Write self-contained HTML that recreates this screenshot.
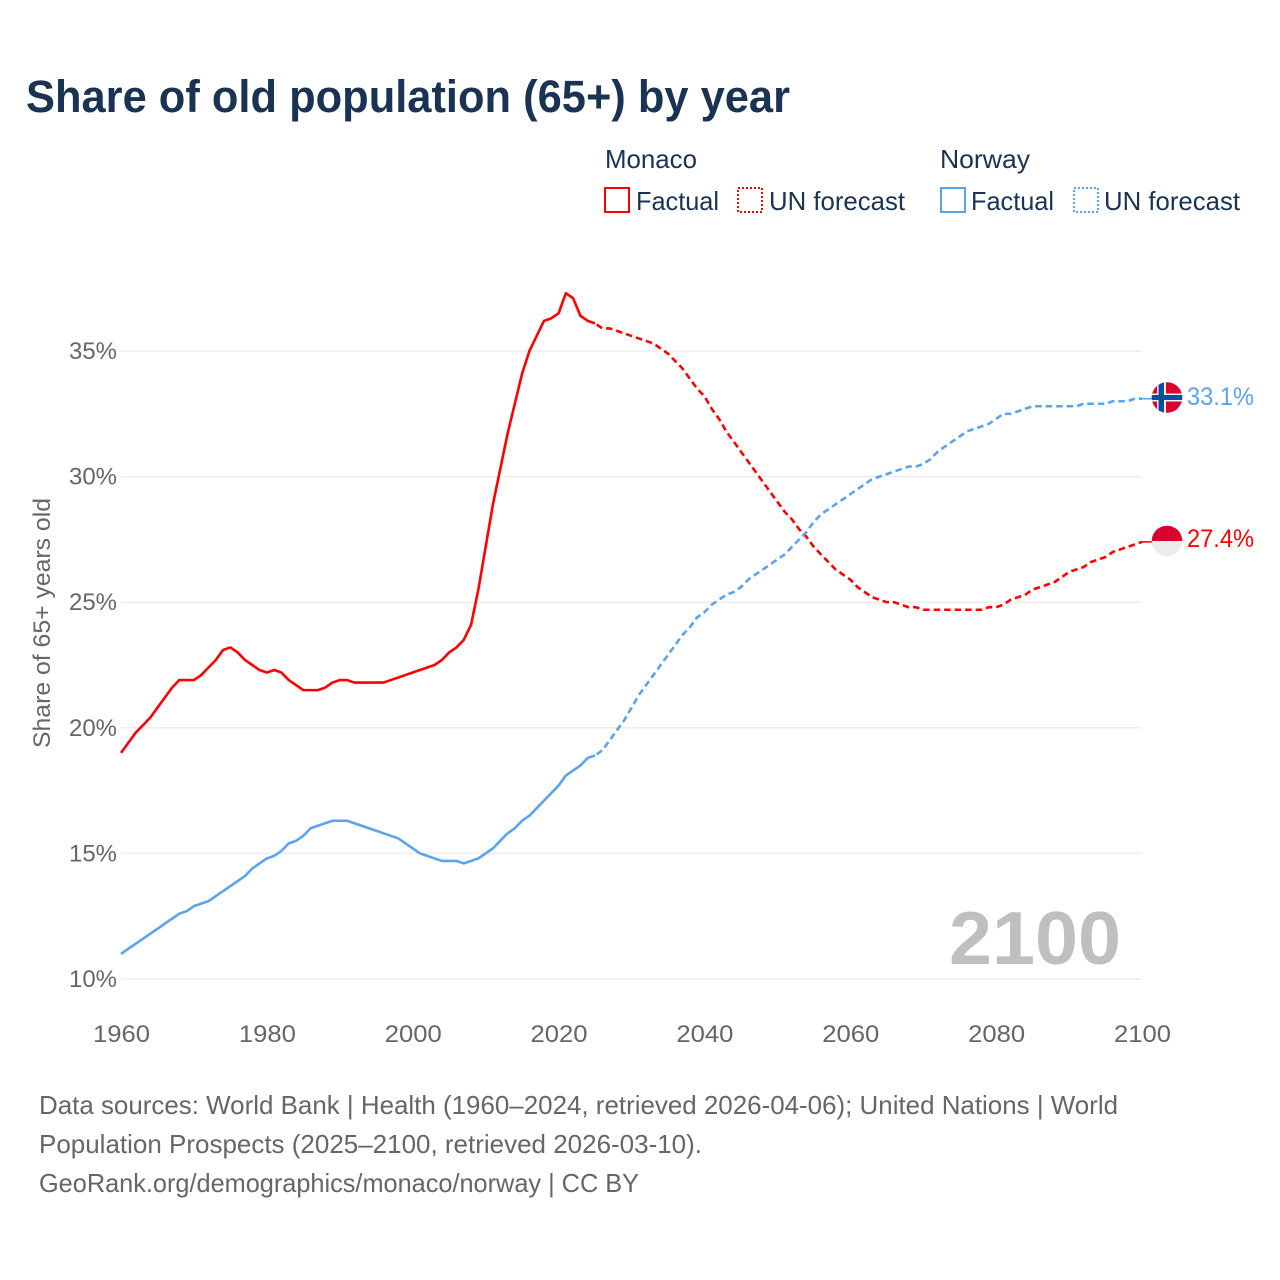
<!DOCTYPE html>
<html lang="en">
<head>
<meta charset="utf-8">
<title>Share of old population (65+) by year</title>
<style>
html,body{margin:0;padding:0;background:#fff;width:1280px;height:1280px;overflow:hidden}
svg{display:block}
text{font-family:"Liberation Sans",sans-serif}
</style>
</head>
<body>
<svg id="chart" xmlns="http://www.w3.org/2000/svg" width="1280" height="1280" viewBox="0 0 1280 1280">
  <rect x="0" y="0" width="1280" height="1280" fill="#fff"/>
  <text x="26" y="112" font-size="45" font-weight="700" fill="#1a3352" textLength="764" lengthAdjust="spacingAndGlyphs">Share of old population (65+) by year</text>

  <g font-size="26" fill="#1a3352">
    <text x="605" y="168" textLength="92" lengthAdjust="spacingAndGlyphs">Monaco</text>
    <text x="940" y="168" textLength="90" lengthAdjust="spacingAndGlyphs">Norway</text>
    <rect x="605" y="188" width="24" height="24" fill="none" stroke="#ff0000" stroke-width="2"/>
    <text x="636" y="210" textLength="83" lengthAdjust="spacingAndGlyphs">Factual</text>
    <rect x="738" y="188" width="24" height="24" fill="none" stroke="#ff0000" stroke-width="2" stroke-dasharray="2 2"/>
    <text x="769" y="210" textLength="136" lengthAdjust="spacingAndGlyphs">UN forecast</text>
    <rect x="941" y="188" width="24" height="24" fill="none" stroke="#5ba4ec" stroke-width="2"/>
    <text x="971" y="210" textLength="83" lengthAdjust="spacingAndGlyphs">Factual</text>
    <rect x="1074" y="188" width="24" height="24" fill="none" stroke="#5ba4ec" stroke-width="2" stroke-dasharray="2 2"/>
    <text x="1104" y="210" textLength="136" lengthAdjust="spacingAndGlyphs">UN forecast</text>
  </g>

  <g id="grid"></g>
  <g id="yticks" font-size="24" fill="#666"></g>
  <g id="xticks" font-size="24" fill="#666"></g>
  <text transform="translate(50,623) rotate(-90)" text-anchor="middle" font-size="24" fill="#666" textLength="250" lengthAdjust="spacingAndGlyphs">Share of 65+ years old</text>
  <text x="1121" y="964" text-anchor="end" font-size="75" font-weight="700" fill="#bfbfbf" textLength="172" lengthAdjust="spacingAndGlyphs">2100</text>

  <g id="series"></g>

  <defs>
    <clipPath id="flag-clip-norway"><circle cx="1167" cy="397.500" r="15.300"/></clipPath>
    <clipPath id="flag-clip-monaco"><circle cx="1167" cy="541" r="15.300"/></clipPath>
  </defs>
  <g id="flag-norway" clip-path="url(#flag-clip-norway)">
    <rect x="1150" y="380" width="34" height="36" fill="#d8042f"/>
    <rect x="1157" y="380" width="9" height="36" fill="#f2f2f2"/>
    <rect x="1150" y="393.500" width="34" height="8" fill="#f2f2f2"/>
    <rect x="1158.500" y="380" width="5.500" height="36" fill="#0a4ea2"/>
    <rect x="1150" y="395" width="34" height="5" fill="#0a4ea2"/>
  </g>
  <g id="flag-monaco" clip-path="url(#flag-clip-monaco)">
    <rect x="1150" y="524" width="34" height="17" fill="#d8042f"/>
    <rect x="1150" y="541" width="34" height="17" fill="#ececec"/>
  </g>
  <text x="1187" y="405" font-size="25" fill="#5ba4ec" textLength="67" lengthAdjust="spacingAndGlyphs">33.1%</text>
  <text x="1187" y="547" font-size="25" fill="#ff0000" textLength="67" lengthAdjust="spacingAndGlyphs">27.4%</text>

  <g font-size="26" fill="#666">
    <text x="39" y="1114" textLength="1079" lengthAdjust="spacingAndGlyphs">Data sources: World Bank | Health (1960–2024, retrieved 2026-04-06); United Nations | World</text>
    <text x="39" y="1153" textLength="663" lengthAdjust="spacingAndGlyphs">Population Prospects (2025–2100, retrieved 2026-03-10).</text>
    <text x="39" y="1192" textLength="600" lengthAdjust="spacingAndGlyphs">GeoRank.org/demographics/monaco/norway | CC BY</text>
  </g>
</svg>
<script>
var xTickYears = [1960, 1980, 2000, 2020, 2040, 2060, 2080, 2100];
var yTickValues = [10, 15, 20, 25, 30, 35];
var factualStartYear = 1960;
var forecastStartYear = 2025;
var monacoFactual = [19.0,19.4,19.8,20.1,20.4,20.8,21.2,21.6,21.9,21.9,21.9,22.1,22.4,22.7,23.1,23.2,23.0,22.7,22.5,22.3,22.2,22.3,22.2,21.9,21.7,21.5,21.5,21.5,21.6,21.8,21.9,21.9,21.8,21.8,21.8,21.8,21.8,21.9,22.0,22.1,22.2,22.3,22.4,22.5,22.7,23.0,23.2,23.5,24.1,25.5,27.2,28.9,30.3,31.7,32.9,34.1,35.0,35.6,36.2,36.3,36.5,37.3,37.1,36.4,36.2,36.1];
var monacoForecast = [36.1,35.9,35.9,35.8,35.7,35.6,35.5,35.4,35.3,35.1,34.9,34.6,34.3,33.9,33.5,33.2,32.7,32.3,31.8,31.4,31.0,30.6,30.2,29.8,29.4,29.0,28.6,28.3,27.9,27.6,27.2,26.9,26.6,26.3,26.1,25.9,25.6,25.4,25.2,25.1,25.0,25.0,24.9,24.8,24.8,24.7,24.7,24.7,24.7,24.7,24.7,24.7,24.7,24.7,24.8,24.8,24.9,25.1,25.2,25.3,25.5,25.6,25.7,25.8,26.0,26.2,26.3,26.4,26.6,26.7,26.8,27.0,27.1,27.2,27.3,27.4];
var norwayFactual = [11.0,11.2,11.4,11.6,11.8,12.0,12.2,12.4,12.6,12.7,12.9,13.0,13.1,13.3,13.5,13.7,13.9,14.1,14.4,14.6,14.8,14.9,15.1,15.4,15.5,15.7,16.0,16.1,16.2,16.3,16.3,16.3,16.2,16.1,16.0,15.9,15.8,15.7,15.6,15.4,15.2,15.0,14.9,14.8,14.7,14.7,14.7,14.6,14.7,14.8,15.0,15.2,15.5,15.8,16.0,16.3,16.5,16.8,17.1,17.4,17.7,18.1,18.3,18.5,18.8,18.9];
var norwayForecast = [18.9,19.1,19.5,19.9,20.3,20.8,21.3,21.7,22.1,22.5,22.9,23.3,23.7,24.0,24.4,24.6,24.9,25.1,25.3,25.4,25.6,25.9,26.1,26.3,26.5,26.7,26.9,27.2,27.5,27.8,28.2,28.5,28.7,28.9,29.1,29.3,29.5,29.7,29.9,30.0,30.1,30.2,30.3,30.4,30.4,30.5,30.7,31.0,31.2,31.4,31.6,31.8,31.9,32.0,32.1,32.3,32.5,32.5,32.6,32.7,32.8,32.8,32.8,32.8,32.8,32.8,32.8,32.9,32.9,32.9,32.9,33.0,33.0,33.0,33.1,33.1];

var NS = 'http://www.w3.org/2000/svg';
function xScale(year) { return 121 + (year - 1960) * (1142 - 121) / 140; }
function yScale(value) { return 979 - (value - 10) * (979 - 351) / 25; }
function make(tag, attrs, parent) {
  var el = document.createElementNS(NS, tag);
  for (var k in attrs) el.setAttribute(k, attrs[k]);
  parent.appendChild(el);
  return el;
}
function pathFor(values, startYear) {
  return values.map(function (v, i) {
    return (i ? 'L' : 'M') + xScale(startYear + i).toFixed(2) + ' ' + yScale(v).toFixed(2);
  }).join(' ');
}

var grid = document.getElementById('grid');
var yticks = document.getElementById('yticks');
var xticks = document.getElementById('xticks');
var series = document.getElementById('series');

yTickValues.forEach(function (v) {
  var line = make('line', {x1: xScale(1960), x2: xScale(2100), y1: yScale(v), y2: yScale(v), stroke: '#eeeeee', 'stroke-width': 1.5}, grid);
  
  
  var label = make('text', {x: 117, y: yScale(v) + 8, 'text-anchor': 'end', textLength: 48, lengthAdjust: 'spacingAndGlyphs'}, yticks);
  
  
  label.textContent = v + '%';
});

xTickYears.forEach(function (year) {
  var label = make('text', {x: xScale(year) + 0.5, y: 1042, 'text-anchor': 'middle', textLength: 57, lengthAdjust: 'spacingAndGlyphs'}, xticks);
  
  
  label.textContent = year;
});

function drawLine(values, startYear, color, dashed, name) {
  var attrs = {d: pathFor(values, startYear), fill: 'none', stroke: color, 'stroke-width': 2.6, 'stroke-linejoin': 'round'};
  if (dashed) {
    attrs['stroke-dasharray'] = '6.5 4';
    attrs['stroke-dashoffset'] = '8.5';
  }
  var path = make('path', attrs, series);
  
  
  return path;
}
function drawConnector(value, color, name) {
  var last = xScale(2100);
  var line = make('line', {x1: last, x2: last + 11, y1: yScale(value), y2: yScale(value), stroke: color, 'stroke-width': 1.6}, series);
  
  
}

drawLine(monacoFactual, factualStartYear, '#ff0000', false, 'monaco-factual-line');
drawLine(monacoForecast, forecastStartYear, '#ff0000', true, 'monaco-forecast-line');
drawLine(norwayFactual, factualStartYear, '#5ba4ec', false, 'norway-factual-line');
drawLine(norwayForecast, forecastStartYear, '#5ba4ec', true, 'norway-forecast-line');
drawConnector(monacoForecast[monacoForecast.length - 1], '#ff0000', 'monaco-end-connector');
drawConnector(norwayForecast[norwayForecast.length - 1], '#5ba4ec', 'norway-end-connector');
</script>
</body>
</html>
